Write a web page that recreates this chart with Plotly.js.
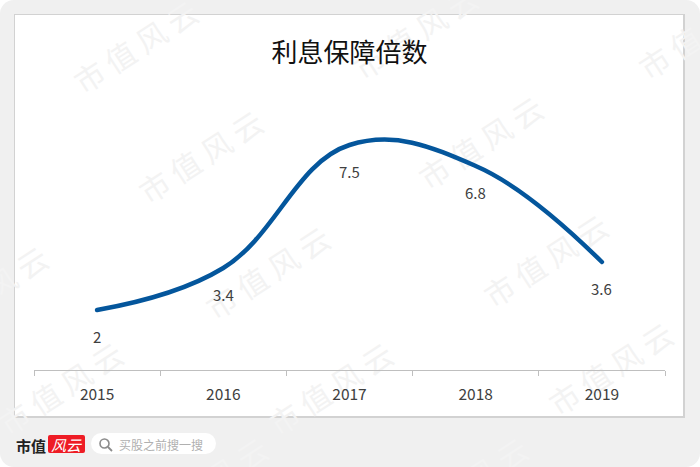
<!DOCTYPE html>
<html><head><meta charset="utf-8">
<script src="https://cdn.plot.ly/plotly-3.0.1.min.js"></script>
<style>
html,body{margin:0;padding:0;background:#fff;width:700px;height:467px;overflow:hidden}
#bg{position:absolute;left:0;top:0;width:700px;height:467px;background:#f0f0f0;border-radius:14px}
#card{position:absolute;left:14px;top:14px;width:668px;height:401px;background:#fff;border:1px solid #d2d2d2;border-bottom-width:2px;border-right-width:2px;box-sizing:content-box}
#logo{position:absolute;left:48px;top:435px;width:37px;height:18px;background:#ee1c25;border-radius:2px}
#pill{position:absolute;left:91px;top:433px;width:125px;height:21px;background:#fff;border-radius:11px}
#plot{position:absolute;left:0;top:0;width:700px;height:467px}
.js-line{stroke-linecap:round !important}
</style></head><body>
<div id="bg"></div><div id="card"></div><div id="logo"></div><div id="pill"></div>
<div id="plot"></div>
<script>
const categories = ['2015','2016','2017','2018','2019'];
const coverage = [2, 3.4, 7.5, 6.8, 3.6];
const chartTitle = '利息保障倍数';
const watermarkText = '市 值 风 云';
const watermarkX = [138,203,418,483,703,548,613,270,333,63,-12,468,208];
const watermarkY = [50,160,36,146,36,264,372,276,392,392,296,487,487];
const CJK = '"Noto Sans CJK SC","Noto Sans",sans-serif';

const annotations = [];
categories.forEach((c,i)=>annotations.push({
  xref:'x',yref:'y',x:i,y:coverage[i],text:String(coverage[i]),showarrow:false,yshift:-26,
  font:{family:CJK,size:15,color:'#404040'},xanchor:'center',yanchor:'middle'
}));
annotations.push({xref:'paper',yref:'paper',x:(14-34)/631,y:(370-445)/270,text:'<b>市值</b>',showarrow:false,
  xanchor:'left',yanchor:'middle',font:{family:'"Noto Sans CJK SC"',size:15,color:'#222'}});
annotations.push({xref:'paper',yref:'paper',x:(66-34)/631,y:(370-444)/270,text:'<i>风云</i>',showarrow:false,
  xanchor:'center',yanchor:'middle',font:{family:'"Noto Sans CJK SC"',size:15,color:'#fff'}});
annotations.push({xref:'paper',yref:'paper',x:(117-34)/631,y:(370-444)/270,text:'买股之前搜一搜',showarrow:false,
  xanchor:'left',yanchor:'middle',font:{family:'"Noto Sans CJK SC"',size:12,color:'#b0b0b0'}});

const shapes = [
 {type:'circle',xref:'paper',yref:'paper',x0:(100-34)/631,x1:(109-34)/631,y0:(370-448)/270,y1:(370-439)/270,line:{color:'#8c8c8c',width:1.6}},
 {type:'line',xref:'paper',yref:'paper',x0:(108-34)/631,x1:(112-34)/631,y0:(370-447)/270,y1:(370-451)/270,line:{color:'#8c8c8c',width:1.8}}
];
watermarkX.forEach((x,i)=>{
  const px=(x-34)/631, py=(370-watermarkY[i])/270;
  shapes.push({type:'rect',layer:'below',xref:'paper',yref:'paper',x0:px-0.01,x1:px+0.01,y0:py-0.01,y1:py+0.01,
    line:{width:0},fillcolor:'rgba(0,0,0,0)',
    label:{text:watermarkText,textangle:-33,textposition:'middle center',
      font:{family:CJK,size:30,color:'#f3f3f3'}}});
});

Plotly.newPlot('plot',[{
  x:categories,y:coverage,type:'scatter',mode:'lines',
  line:{shape:'spline',smoothing:1.15,color:'#04569c',width:4.5},cliponaxis:false
}],{
  width:700,height:467,paper_bgcolor:'rgba(0,0,0,0)',plot_bgcolor:'rgba(0,0,0,0)',
  margin:{l:34,r:35,t:100,b:97,pad:0},showlegend:false,
  title:{text:chartTitle,x:0.5,xanchor:'center',xref:'paper',y:1-53/467,yanchor:'middle',yref:'container',
    font:{family:CJK,size:26,color:'#111'}},
  xaxis:{type:'category',range:[-0.5,4.5],tickson:'boundaries',ticks:'outside',ticklen:5,tickcolor:'#bfbfbf',tickwidth:1,
    showline:true,linecolor:'#bfbfbf',linewidth:1,showgrid:false,zeroline:false,fixedrange:true,ticklabelstandoff:10,
    tickfont:{family:CJK,size:15.5,color:'#404040'}},
  yaxis:{range:[0,9],visible:false,showgrid:false,zeroline:false,fixedrange:true},
  annotations,shapes
},{displayModeBar:false,staticPlot:true});
</script></body></html>
